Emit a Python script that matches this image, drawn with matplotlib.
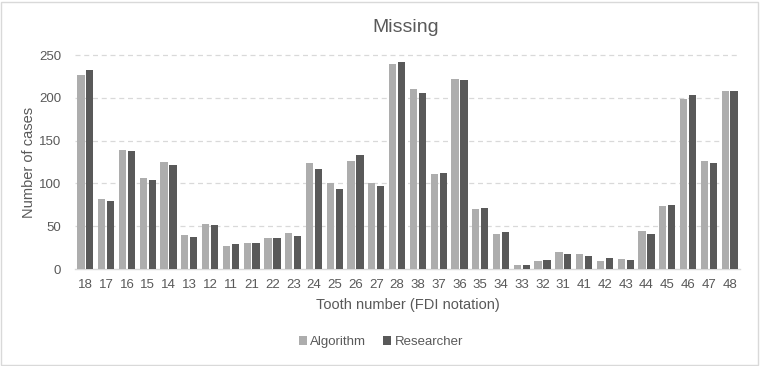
import numpy as np
import matplotlib.pyplot as plt
from matplotlib.patches import Rectangle

teeth = ["18", "17", "16", "15", "14", "13", "12", "11", "21", "22", "23", "24",
         "25", "26", "27", "28", "38", "37", "36", "35", "34", "33", "32", "31",
         "41", "42", "43", "44", "45", "46", "47", "48"]
algorithm = [227, 82, 139, 106, 125, 40, 53, 27, 30, 36, 42, 124,
             100, 126, 101, 240, 210, 111, 222, 70, 41, 5, 9, 20,
             18, 9, 12, 44, 74, 199, 126, 208]
researcher = [232, 80, 138, 104, 121, 37, 51, 29, 30, 36, 39, 117,
              93, 133, 97, 242, 206, 112, 221, 71, 43, 5, 10, 18,
              15, 13, 11, 41, 75, 203, 124, 208]

plt.rcParams['font.family'] = ['Liberation Sans', 'DejaVu Sans']
text_col = "#595959"

fig = plt.figure(figsize=(7.6, 3.66), dpi=100)
ax = fig.add_axes([75 / 760, 97 / 366, 665 / 760, 214 / 366])

x = np.arange(len(teeth))
w = 0.35
ax.bar(x - 0.215, algorithm, w, color="#ADADAD", label="Algorithm", zorder=3)
ax.bar(x + 0.215, researcher, w, color="#595959", label="Researcher", zorder=3)

ax.set_xlim(-0.5, len(teeth) - 0.5)
ax.set_ylim(0, 250)
ax.set_yticks(range(0, 251, 50))
ax.set_xticks(x)
ax.set_xticklabels(teeth)
ax.tick_params(axis="both", length=0, colors=text_col, labelsize=9.5)
ax.tick_params(axis="x", pad=7)
ax.tick_params(axis="y", pad=10)

for v in range(50, 251, 50):
    ax.axhline(v, color="#D9D9D9", lw=0.9, ls=(0, (4, 3)), zorder=1, clip_on=False)
for s in ["top", "right", "left"]:
    ax.spines[s].set_visible(False)
ax.spines["bottom"].set_color("#D9D9D9")
ax.spines["bottom"].set_linewidth(1)

ax.set_ylabel("Number of cases", color=text_col, fontsize=10.5, labelpad=2)
ax.set_xlabel("Tooth number (FDI notation)", color=text_col, fontsize=10.5, labelpad=5)

fig.text(406 / 760, 1 - 28 / 366, "Missing", ha="center", va="center",
         fontsize=14, color=text_col)

leg = fig.legend(loc="center", bbox_to_anchor=(381 / 760, 1 - 342 / 366), ncol=2,
                 frameon=False, fontsize=9.5, handlelength=0.6, handleheight=0.6,
                 handletextpad=0.25, columnspacing=1.3)
for t in leg.get_texts():
    t.set_color(text_col)

fig.patches.append(Rectangle((1 / 760, 1 / 366), 757 / 760, 363 / 366,
                             transform=fig.transFigure, fill=False,
                             edgecolor="#D9D9D9", lw=1))

fig.savefig("out.png", dpi=100)
